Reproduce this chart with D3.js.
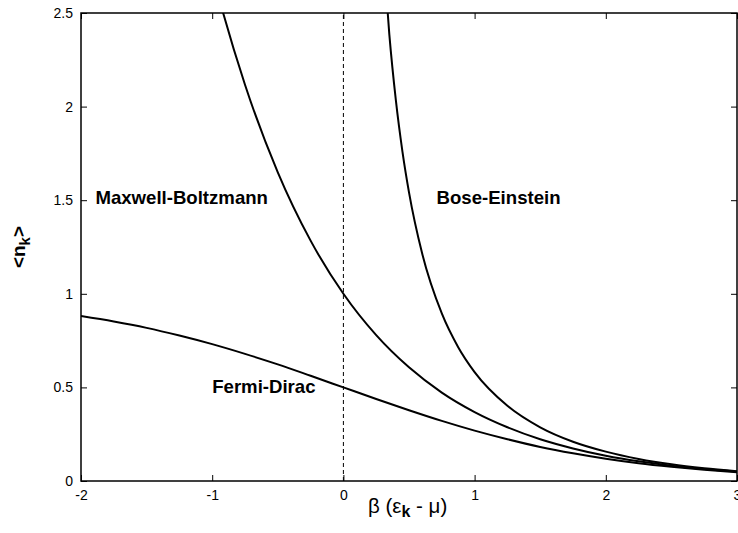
<!DOCTYPE html>
<html>
<head>
<meta charset="utf-8">
<script src="https://cdn.jsdelivr.net/npm/d3@7.9.0/dist/d3.min.js"></script>
<style>
  body { margin: 0; background: #fff; }
  svg { display: block; font-family: "Liberation Sans", Arial, Helvetica, sans-serif; }
  .tick text { font-size: 14px; fill: #000; }
  .curve-label { font-size: 18.6px; font-weight: bold; }
</style>
</head>
<body>
<svg id="chart" width="738" height="533"></svg>
<script>
// values
const mbX = [-1.25, -1, -0.75, -0.5, -0.25, 0, 0.25, 0.5, 0.75, 1, 1.25, 1.5, 1.75, 2, 2.25, 2.5, 2.75, 3];
const mbY = [3.490, 2.718, 2.117, 1.649, 1.284, 1.000, 0.779, 0.607, 0.472, 0.368, 0.287, 0.223, 0.174, 0.135, 0.105, 0.082, 0.064, 0.050];

const fdX = [-2, -1.75, -1.5, -1.25, -1, -0.75, -0.5, -0.25, 0, 0.25, 0.5, 0.75, 1, 1.25, 1.5, 1.75, 2, 2.25, 2.5, 2.75, 3];
const fdY = [0.881, 0.852, 0.818, 0.777, 0.731, 0.679, 0.623, 0.562, 0.500, 0.438, 0.378, 0.321, 0.269, 0.223, 0.182, 0.148, 0.119, 0.095, 0.076, 0.060, 0.047];

const beX = [0.3, 0.35, 0.4, 0.45, 0.5, 0.6, 0.75, 0.875, 1, 1.25, 1.5, 1.75, 2, 2.25, 2.5, 2.75, 3];
const beY = [2.858, 2.386, 2.033, 1.760, 1.542, 1.216, 0.895, 0.715, 0.582, 0.402, 0.287, 0.210, 0.157, 0.118, 0.089, 0.068, 0.052];

const xTicks = [-2, -1, 0, 1, 2, 3];
const yTicks = [0, 0.5, 1, 1.5, 2, 2.5];

const labels = [
  { text: 'Maxwell-Boltzmann', x: -1.89, y: 1.48 },
  { text: 'Bose-Einstein', x: 0.71, y: 1.48 },
  { text: 'Fermi-Dirac', x: -1.0, y: 0.47 }
];

const margin = { top: 13, right: 1, bottom: 52, left: 81 };
const width = 738, height = 533;

const svg = d3.select('#chart');

const x = d3.scaleLinear().domain([-2, 3]).range([margin.left, width - margin.right]);
const y = d3.scaleLinear().domain([0, 2.5]).range([height - margin.bottom, margin.top]);

svg.append('defs').append('clipPath').attr('id', 'plot-clip')
  .append('rect')
  .attr('x', x(-2)).attr('y', y(2.5))
  .attr('width', x(3) - x(-2)).attr('height', y(0) - y(2.5));

// axes with inward ticks, mirrored on top and right
const xAxis = svg.append('g')
  .attr('transform', `translate(0,${y(0)})`)
  .call(d3.axisBottom(x).tickValues(xTicks).tickFormat(d => String(d)).tickSize(-6).tickPadding(9));
const xTop = svg.append('g')
  .attr('transform', `translate(0,${y(2.5)})`)
  .call(d3.axisTop(x).tickValues(xTicks).tickFormat('').tickSize(-6));
const yAxis = svg.append('g')
  .attr('transform', `translate(${x(-2)},0)`)
  .call(d3.axisLeft(y).tickValues(yTicks).tickFormat(d => String(d)).tickSize(-6).tickPadding(8));
const yRight = svg.append('g')
  .attr('transform', `translate(${x(3)},0)`)
  .call(d3.axisRight(y).tickValues(yTicks).tickFormat('').tickSize(-6));

[xAxis, xTop, yAxis, yRight].forEach(g => {
  g.select('.domain').remove();
  g.selectAll('.tick line').attr('stroke', '#000');
  g.attr('font-family', null).attr('font-size', null);
});

// dashed line at zero
svg.append('line')
  .attr('x1', x(0)).attr('x2', x(0))
  .attr('y1', y(0)).attr('y2', y(2.5))
  .attr('stroke', '#000').attr('stroke-width', 1)
  .attr('stroke-dasharray', '4,3');

const line = d3.line()
  .x(d => x(d[0]))
  .y(d => y(d[1]))
  .curve(d3.curveMonotoneX);

const series = [
  d3.zip(mbX, mbY),
  d3.zip(fdX, fdY),
  d3.zip(beX, beY)
];

svg.append('g').attr('clip-path', 'url(#plot-clip)')
  .selectAll('path')
  .data(series)
  .join('path')
  .attr('d', line)
  .attr('fill', 'none')
  .attr('stroke', '#000')
  .attr('stroke-width', 2);

// border
svg.append('rect')
  .attr('x', x(-2)).attr('y', y(2.5))
  .attr('width', x(3) - x(-2)).attr('height', y(0) - y(2.5))
  .attr('fill', 'none').attr('stroke', '#000').attr('stroke-width', 1.5);

svg.selectAll('.curve-label')
  .data(labels)
  .join('text')
  .attr('class', 'curve-label')
  .attr('x', d => x(d.x))
  .attr('y', d => y(d.y))
  .text(d => d.text);

// axis titles
const xt = svg.append('text')
  .attr('x', 368).attr('y', 513)
  .attr('font-size', 20.5);
xt.append('tspan').text('β (ε');
xt.append('tspan').attr('font-weight', 'bold').attr('font-size', 16).attr('dy', 4).text('k');
xt.append('tspan').attr('dy', -4).text(' - μ)');

const yt = svg.append('text')
  .attr('transform', 'translate(25,247) rotate(-90)')
  .attr('text-anchor', 'middle')
  .attr('font-size', 19).attr('font-weight', 'bold');
yt.append('tspan').text('<n');
yt.append('tspan').attr('font-size', 15).attr('dy', 5).text('k');
yt.append('tspan').attr('dy', -5).text('>');
</script>
</body>
</html>
